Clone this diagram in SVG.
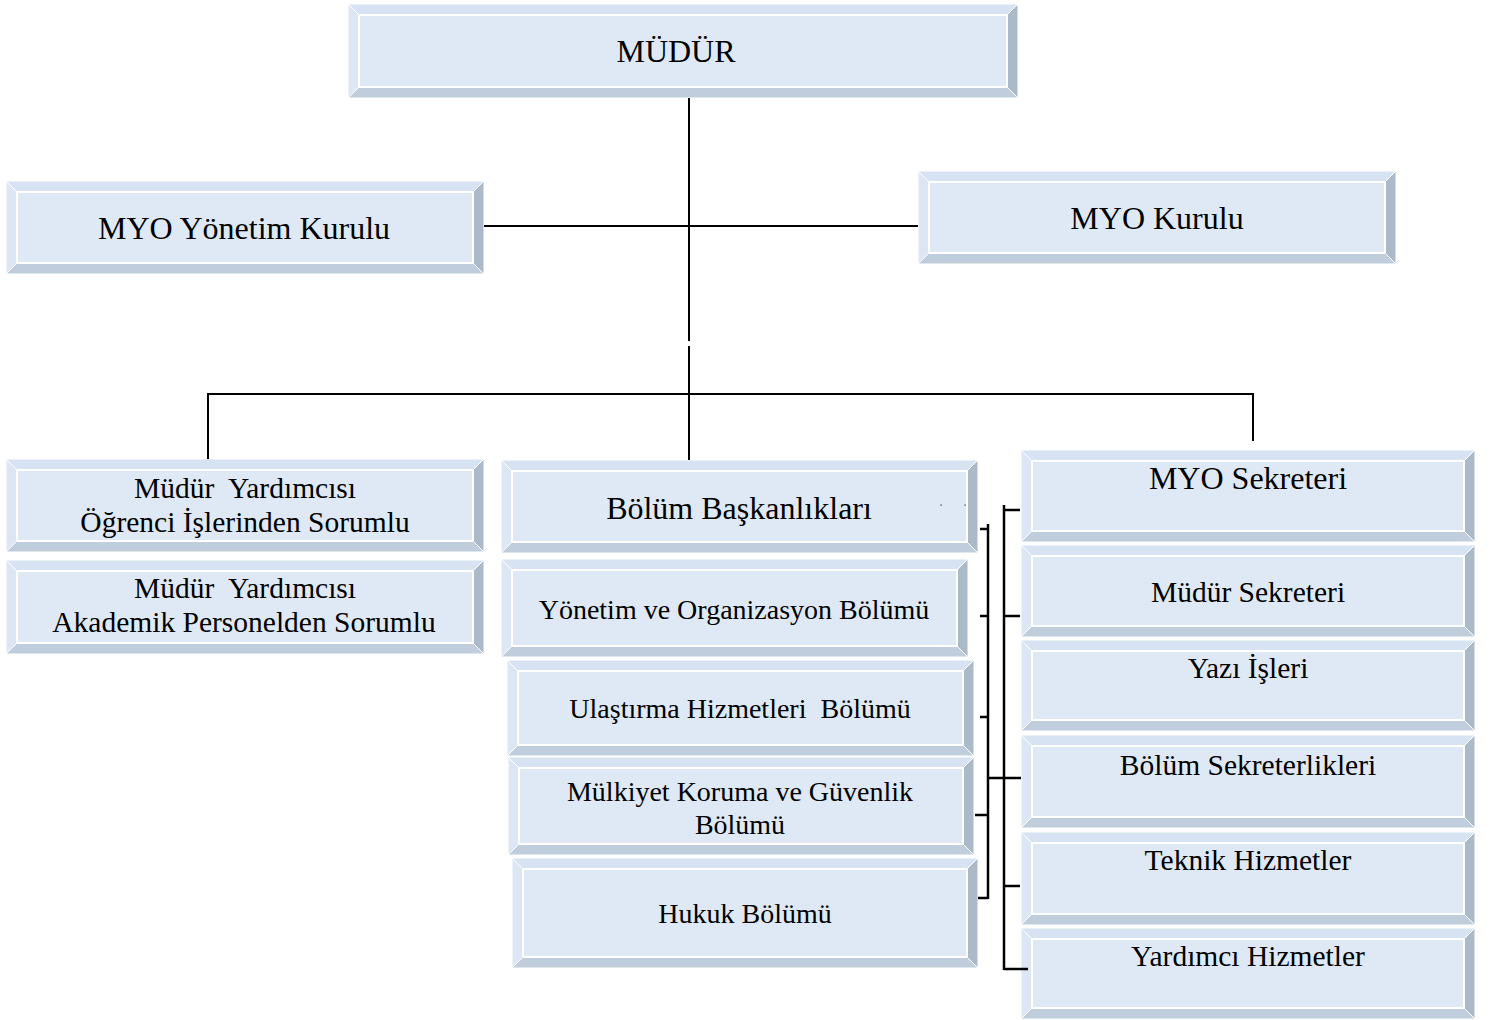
<svg xmlns="http://www.w3.org/2000/svg" width="1494" height="1020" viewBox="0 0 1494 1020">
<style>
.t{fill:#d7e3f3;stroke:#fff;stroke-width:1}
.l{fill:#dce6f4;stroke:#fff;stroke-width:1}
.r{fill:#abbac9;stroke:#fff;stroke-width:1}
.b{fill:#bfcddd;stroke:#fff;stroke-width:1}
.f{fill:#dfe9f6;stroke:#fff;stroke-width:2}
text{font-family:"Liberation Serif","Times New Roman",serif;fill:#000;text-anchor:middle}
.lg{font-size:32px}
.md{font-size:29.5px}
.sm{font-size:28px}
.c{stroke:#000;stroke-width:2;fill:none}
.k{stroke:#000;stroke-width:2.5;fill:none}
</style>
<rect width="1494" height="1020" fill="#fff"/>
<g id="n-mudur">
<polygon class="t" points="348,4 1018,4 1007,15 359,15"/>
<polygon class="l" points="348,4 359,15 359,87 348,98"/>
<polygon class="r" points="1018,4 1018,98 1007,87 1007,15"/>
<polygon class="b" points="348,98 359,87 1007,87 1018,98"/>
<rect class="f" x="359" y="15" width="648" height="72"/>
<text class="lg" x="676" y="62">MÜDÜR</text>
</g>
<g id="n-yonetim-kurulu">
<polygon class="t" points="6,181 484,181 473,192 17,192"/>
<polygon class="l" points="6,181 17,192 17,263 6,274"/>
<polygon class="r" points="484,181 484,274 473,263 473,192"/>
<polygon class="b" points="6,274 17,263 473,263 484,274"/>
<rect class="f" x="17" y="192" width="456" height="71"/>
<text class="lg" x="244" y="239">MYO Yönetim Kurulu</text>
</g>
<g id="n-kurulu">
<polygon class="t" points="918,171 1396,171 1385,182 929,182"/>
<polygon class="l" points="918,171 929,182 929,253 918,264"/>
<polygon class="r" points="1396,171 1396,264 1385,253 1385,182"/>
<polygon class="b" points="918,264 929,253 1385,253 1396,264"/>
<rect class="f" x="929" y="182" width="456" height="71"/>
<text class="lg" x="1157" y="229">MYO Kurulu</text>
</g>
<g id="n-my-ogrenci">
<polygon class="t" points="6,459 484,459 473,470 17,470"/>
<polygon class="l" points="6,459 17,470 17,541 6,552"/>
<polygon class="r" points="484,459 484,552 473,541 473,470"/>
<polygon class="b" points="6,552 17,541 473,541 484,552"/>
<rect class="f" x="17" y="470" width="456" height="71"/>
<text class="md" x="245" y="498" xml:space="preserve">Müdür  Yardımcısı</text>
<text class="md" x="245" y="532">Öğrenci İşlerinden Sorumlu</text>
</g>
<g id="n-my-akademik">
<polygon class="t" points="6,560 484,560 473,571 17,571"/>
<polygon class="l" points="6,560 17,571 17,643 6,654"/>
<polygon class="r" points="484,560 484,654 473,643 473,571"/>
<polygon class="b" points="6,654 17,643 473,643 484,654"/>
<rect class="f" x="17" y="571" width="456" height="72"/>
<text class="md" x="245" y="598" xml:space="preserve">Müdür  Yardımcısı</text>
<text class="md" x="244" y="632">Akademik Personelden Sorumlu</text>
</g>
<g id="n-bolum-bask">
<polygon class="t" points="501,460 978,460 967,471 512,471"/>
<polygon class="l" points="501,460 512,471 512,542 501,553"/>
<polygon class="r" points="978,460 978,553 967,542 967,471"/>
<polygon class="b" points="501,553 512,542 967,542 978,553"/>
<rect class="f" x="512" y="471" width="455" height="71"/>
<text class="lg" x="739" y="519">Bölüm Başkanlıkları</text>
<rect x="940.5" y="504.5" width="1.2" height="1.2" fill="#333"/>
<rect x="964.5" y="504.5" width="1.2" height="1.2" fill="#333"/>
</g>
<g id="n-yonetim-org">
<polygon class="t" points="501,559 968,559 957,570 512,570"/>
<polygon class="l" points="501,559 512,570 512,646 501,657"/>
<polygon class="r" points="968,559 968,657 957,646 957,570"/>
<polygon class="b" points="501,657 512,646 957,646 968,657"/>
<rect class="f" x="512" y="570" width="445" height="76"/>
<text class="sm" x="734" y="619">Yönetim ve Organizasyon Bölümü</text>
</g>
<g id="n-ulastirma">
<polygon class="t" points="507,660 974,660 963,671 518,671"/>
<polygon class="l" points="507,660 518,671 518,745 507,756"/>
<polygon class="r" points="974,660 974,756 963,745 963,671"/>
<polygon class="b" points="507,756 518,745 963,745 974,756"/>
<rect class="f" x="518" y="671" width="445" height="74"/>
<text class="sm" x="740" y="718" xml:space="preserve">Ulaştırma Hizmetleri  Bölümü</text>
</g>
<g id="n-mulkiyet">
<polygon class="t" points="508,757 974,757 963,768 519,768"/>
<polygon class="l" points="508,757 519,768 519,844 508,855"/>
<polygon class="r" points="974,757 974,855 963,844 963,768"/>
<polygon class="b" points="508,855 519,844 963,844 974,855"/>
<rect class="f" x="519" y="768" width="444" height="76"/>
<text class="sm" x="740" y="801">Mülkiyet Koruma ve Güvenlik</text>
<text class="sm" x="740" y="834">Bölümü</text>
</g>
<g id="n-hukuk">
<polygon class="t" points="512,858 978,858 967,869 523,869"/>
<polygon class="l" points="512,858 523,869 523,957 512,968"/>
<polygon class="r" points="978,858 978,968 967,957 967,869"/>
<polygon class="b" points="512,968 523,957 967,957 978,968"/>
<rect class="f" x="523" y="869" width="444" height="88"/>
<text class="sm" x="745" y="923">Hukuk Bölümü</text>
</g>
<g id="n-myo-sekreteri">
<polygon class="t" points="1021,450 1475,450 1464,461 1032,461"/>
<polygon class="l" points="1021,450 1032,461 1032,531 1021,542"/>
<polygon class="r" points="1475,450 1475,542 1464,531 1464,461"/>
<polygon class="b" points="1021,542 1032,531 1464,531 1475,542"/>
<rect class="f" x="1032" y="461" width="432" height="70"/>
<text class="lg" x="1248" y="489">MYO Sekreteri</text>
</g>
<g id="n-mudur-sekreteri">
<polygon class="t" points="1021,545 1475,545 1464,556 1032,556"/>
<polygon class="l" points="1021,545 1032,556 1032,626 1021,637"/>
<polygon class="r" points="1475,545 1475,637 1464,626 1464,556"/>
<polygon class="b" points="1021,637 1032,626 1464,626 1475,637"/>
<rect class="f" x="1032" y="556" width="432" height="70"/>
<text class="md" x="1248" y="602">Müdür Sekreteri</text>
</g>
<g id="n-yazi-isleri">
<polygon class="t" points="1021,640 1475,640 1464,651 1032,651"/>
<polygon class="l" points="1021,640 1032,651 1032,720 1021,731"/>
<polygon class="r" points="1475,640 1475,731 1464,720 1464,651"/>
<polygon class="b" points="1021,731 1032,720 1464,720 1475,731"/>
<rect class="f" x="1032" y="651" width="432" height="69"/>
<text class="md" x="1248" y="678">Yazı İşleri</text>
</g>
<g id="n-bolum-sekreterlikleri">
<polygon class="t" points="1021,735 1475,735 1464,746 1032,746"/>
<polygon class="l" points="1021,735 1032,746 1032,817 1021,828"/>
<polygon class="r" points="1475,735 1475,828 1464,817 1464,746"/>
<polygon class="b" points="1021,828 1032,817 1464,817 1475,828"/>
<rect class="f" x="1032" y="746" width="432" height="71"/>
<text class="md" x="1248" y="775">Bölüm Sekreterlikleri</text>
</g>
<g id="n-teknik">
<polygon class="t" points="1021,832 1475,832 1464,843 1032,843"/>
<polygon class="l" points="1021,832 1032,843 1032,914 1021,925"/>
<polygon class="r" points="1475,832 1475,925 1464,914 1464,843"/>
<polygon class="b" points="1021,925 1032,914 1464,914 1475,925"/>
<rect class="f" x="1032" y="843" width="432" height="71"/>
<text class="md" x="1248" y="870">Teknik Hizmetler</text>
</g>
<g id="n-yardimci">
<polygon class="t" points="1021,928 1475,928 1464,939 1032,939"/>
<polygon class="l" points="1021,928 1032,939 1032,1008 1021,1019"/>
<polygon class="r" points="1475,928 1475,1019 1464,1008 1464,939"/>
<polygon class="b" points="1021,1019 1032,1008 1464,1008 1475,1019"/>
<rect class="f" x="1032" y="939" width="432" height="69"/>
<text class="md" x="1248" y="966">Yardımcı Hizmetler</text>
</g>
<g id="connectors">
<line class="c" x1="689" y1="98" x2="689" y2="341"/>
<line class="c" x1="689" y1="346" x2="689" y2="460"/>
<line class="c" x1="484" y1="226" x2="918" y2="226"/>
<line class="c" x1="207" y1="394" x2="1254" y2="394"/>
<line class="c" x1="208" y1="394" x2="208" y2="459"/>
<line class="c" x1="1253" y1="394" x2="1253" y2="441"/>
<line class="k" x1="988" y1="524" x2="988" y2="899"/>
<line class="k" x1="980" y1="529" x2="988" y2="529"/>
<line class="k" x1="980" y1="616" x2="988" y2="616"/>
<line class="k" x1="980" y1="717" x2="988" y2="717"/>
<line class="k" x1="975" y1="815" x2="988" y2="815"/>
<line class="k" x1="978" y1="898" x2="988" y2="898"/>
<line class="k" x1="1004" y1="505" x2="1004" y2="970"/>
<line class="k" x1="1004" y1="510" x2="1020" y2="510"/>
<line class="k" x1="1004" y1="616" x2="1020" y2="616"/>
<line class="k" x1="988" y1="778" x2="1021" y2="778"/>
<line class="k" x1="1004" y1="886" x2="1020" y2="886"/>
<line class="k" x1="1004" y1="969" x2="1028" y2="969"/>
</g>
</svg>
